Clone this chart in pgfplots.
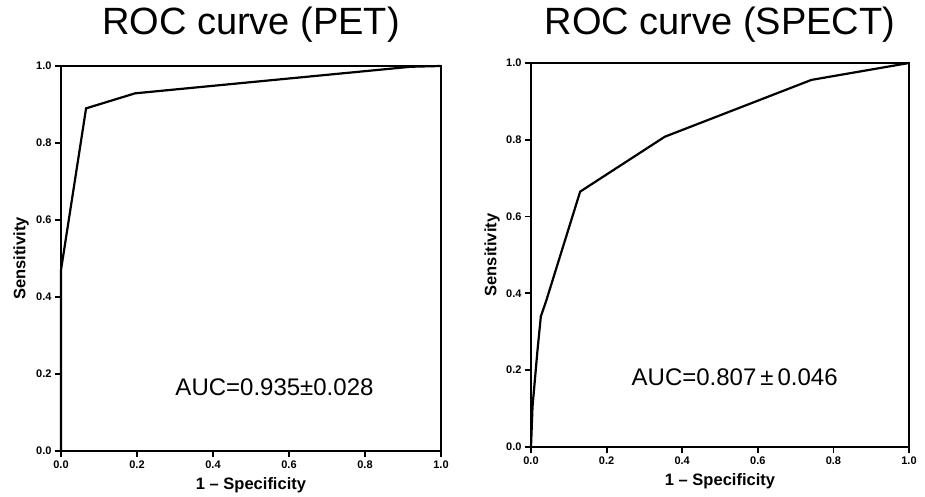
\documentclass[border=0pt]{standalone}
\usepackage{pgfplots}
\pgfplotsset{compat=1.18}
\usepackage{fontspec}
\setmainfont{Liberation Sans}

\pgfplotsset{roc/.style={
    scale only axis,
    xmin=0, xmax=1, ymin=0, ymax=1,
    axis line style={line width=2.2pt},
    xtick={0,0.2,0.4,0.6,0.8,1}, ytick={0,0.2,0.4,0.6,0.8,1},
    tick align=outside, tick pos=left,
    major tick length=6pt,
    tick style={line width=1.8pt, black},
    ticklabel style={font=\fontsize{11}{11}\selectfont\bfseries},
    /pgf/number format/.cd, fixed, fixed zerofill, precision=1, assume math mode=true,
    /pgfplots/.cd,
    xlabel={1 -- Specificity}, ylabel={Sensitivity},
    every axis y label/.style={at={(axis description cs:0,0.5)}, rotate=90, anchor=center, yshift=40pt},
    every axis x label/.style={at={(axis description cs:0.5,0)}, anchor=base, yshift=-39pt},
    label style={font=\fontsize{16.5}{16.5}\selectfont\bfseries},
    title style={font=\fontsize{38}{38}\selectfont, at={(axis description cs:0.5,1)}, anchor=base},
    clip=false,
}}

\begin{document}
\begin{tikzpicture}
\path[use as bounding box] (0,0) rectangle (925pt,497pt);

% PET
\begin{axis}[roc, at={(61pt,46pt)}, anchor=south west,
    width=380pt, height=385pt,
    title={ROC curve (PET)}, title style={yshift=25pt}]
  \addplot[black, line width=2.2pt, no marks] coordinates {
    (0,0) (0,0.47) (0.066,0.89) (0.195,0.929) (0.92,0.998) (1,1)};
  \node[anchor=base west, font=\fontsize{24}{24}\selectfont] at (axis cs:0.292,0.145) {AUC=0.935±0.028};
\end{axis}

% SPECT
\begin{axis}[roc, at={(531pt,50pt)}, anchor=south west,
    width=378pt, height=384pt,
    title={ROC curve (SPECT)}, title style={yshift=22pt},
    every axis y label/.append style={yshift=-1pt}]
  \addplot[black, line width=2.2pt, no marks] coordinates {
    (0,0) (0.004,0.105) (0.017,0.25) (0.026,0.34) (0.04,0.38)
    (0.13,0.665) (0.354,0.808) (0.742,0.956) (1,1)};
  \node[anchor=base west, font=\fontsize{24}{24}\selectfont] at (axis cs:0.257,0.161) {AUC=0.807\,±\,0.046};
\end{axis}
\end{tikzpicture}
\end{document}
